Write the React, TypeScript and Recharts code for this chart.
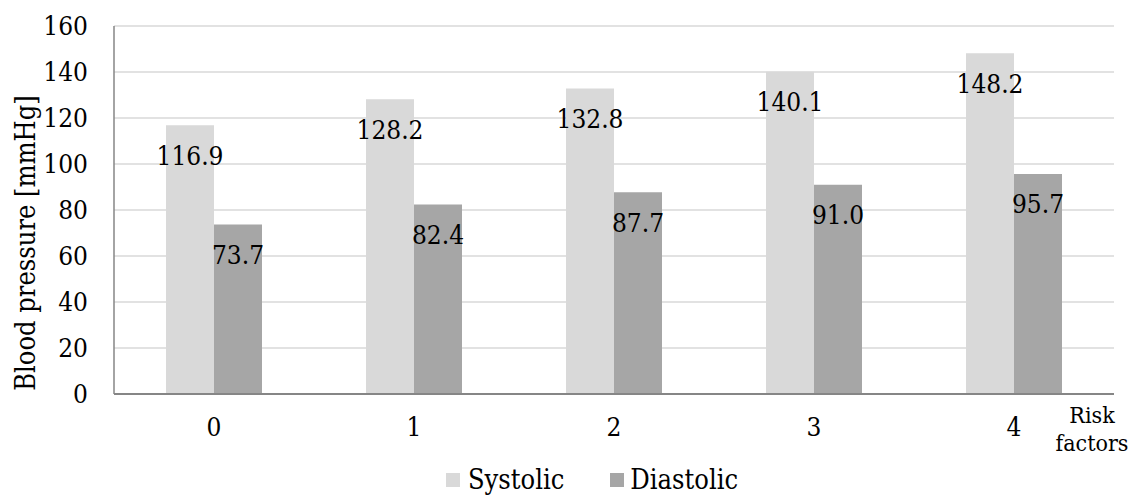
import React from 'react';
import { BarChart, Bar, XAxis, YAxis, CartesianGrid, Legend, LabelList, Label } from 'recharts';

const categories = ['0', '1', '2', '3', '4'];
const systolic = [116.9, 128.2, 132.8, 140.1, 148.2];
const diastolic = [73.7, 82.4, 87.7, 91.0, 95.7];
const yTicks = [0, 20, 40, 60, 80, 100, 120, 140, 160];

const data = categories.map((c, i) => ({ cat: c, systolic: systolic[i], diastolic: diastolic[i] }));

const FONT = '"DejaVu Serif", serif';
const COND = { fontFamily: FONT, fontStretch: 'condensed' } as React.CSSProperties;
const SYS_COLOR = '#d9d9d9';
const DIA_COLOR = '#a6a6a6';

const YLabel = (props: any) => {
  const vb = props.viewBox || {};
  const cy = vb.y + vb.height / 2 + 33;
  return (
    <text x={25} y={cy} transform={`rotate(-90, 25, ${cy})`} textAnchor="middle" dominantBaseline="central"
      style={COND} fontSize={27} fill="#000">Blood pressure [mmHg]</text>
  );
};

const XLabel = (props: any) => {
  const vb = props.viewBox || {};
  const x = vb.x + vb.width - 22;
  const y = vb.y;
  return (
    <text x={x} y={y} textAnchor="middle" style={COND} fontSize={23} fill="#000">
      <tspan x={x} y={y + 29}>Risk</tspan>
      <tspan x={x} y={y + 57}>factors</tspan>
    </text>
  );
};

const LegendContent = () => (
  <div style={{ display: 'flex', justifyContent: 'center', alignItems: 'center', height: 34, ...COND, fontSize: 27, color: '#000', paddingLeft: 36 }}>
    <span style={{ display: 'inline-block', width: 14, height: 14, background: SYS_COLOR, marginRight: 8, marginTop: 2 }} />
    <span style={{ marginRight: 46 }}>Systolic</span>
    <span style={{ display: 'inline-block', width: 14, height: 14, background: DIA_COLOR, marginRight: 6, marginTop: 2 }} />
    <span>Diastolic</span>
  </div>
);

export default function App() {
  return (
    <div style={{ position: 'absolute', left: 0, top: 0, width: 1132, height: 496, background: '#fff' }}>
      <BarChart width={1132} height={496} data={data} margin={{ top: 26, right: 18, left: 34, bottom: 0 }}
        barCategoryGap="26%" barGap={0}>
        <CartesianGrid vertical={false} stroke="#d9d9d9" strokeWidth={1.5} />
        <XAxis dataKey="cat" height={68} tickLine={false} axisLine={{ stroke: '#868686', strokeWidth: 2 }}
          tickMargin={18} tick={{ fontFamily: FONT, fontSize: 26, fill: '#000', style: { fontStretch: 'condensed' } }}>
          <Label content={XLabel} />
        </XAxis>
        <YAxis width={80} domain={[0, 160]} ticks={yTicks} tickLine={false}
          axisLine={{ stroke: '#868686', strokeWidth: 1.5 }} tickMargin={20}
          tick={{ fontFamily: FONT, fontSize: 26, fill: '#000', style: { fontStretch: 'condensed' } }}>
          <Label content={YLabel} />
        </YAxis>
        <Legend verticalAlign="bottom" content={LegendContent} wrapperStyle={{ height: 34 }} />
        <Bar dataKey="systolic" name="Systolic" fill={SYS_COLOR} isAnimationActive={false}>
          <LabelList dataKey="systolic" position="insideTop" offset={21}
            formatter={(v: any) => Number(v).toFixed(1)}
            fontFamily={FONT} fontSize={26} fill="#000" style={{ fontStretch: 'condensed' }} />
        </Bar>
        <Bar dataKey="diastolic" name="Diastolic" fill={DIA_COLOR} isAnimationActive={false}>
          <LabelList dataKey="diastolic" position="insideTop" offset={21}
            formatter={(v: any) => Number(v).toFixed(1)}
            fontFamily={FONT} fontSize={26} fill="#000" style={{ fontStretch: 'condensed' }} />
        </Bar>
      </BarChart>
    </div>
  );
}
